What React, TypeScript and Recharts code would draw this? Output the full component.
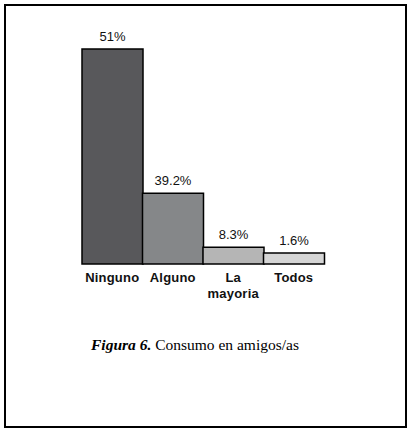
import { BarChart, Bar, XAxis, YAxis, Cell, LabelList } from 'recharts';

// categorías y porcentajes que aparecen en la figura
const categorias = ['Ninguno', 'Alguno', 'La mayoria', 'Todos'];
const porcentajes = ['51%', '39.2%', '8.3%', '1.6%'];
// altura de cada barra tal como está dibujada (misma escala que 51 = barra más alta)
const alturas = [51, 16.8, 4.0, 2.6];

const COLORS = ['#58585b', '#858789', '#b5b5b5', '#d5d5d5'];

const data = categorias.map((c, i) => ({ categoria: c, altura: alturas[i], etiqueta: porcentajes[i] }));

const sansFont = "'Liberation Sans', Arial, sans-serif";

const CategoryTick = (props: any) => {
    const { x, y, payload } = props;
    // "La mayoria" va en dos líneas
    const lines = payload.value === 'La mayoria' ? ['La', 'mayoria'] : [payload.value];
    return (
        <text x={x} y={y} textAnchor="middle" fill="#111" fontFamily={sansFont} fontWeight={700} fontSize={13} letterSpacing={0.2}>
            {lines.map((l: string, i: number) => (
                <tspan key={l} x={x} dy={i === 0 ? 10 : 16}>{l}</tspan>
            ))}
        </text>
    );
};

export default function App() {
    return (
        <div style={{ position: 'absolute', left: 0, top: 0, width: 411, height: 433, background: '#fff' }}>
            <div style={{
                position: 'absolute', left: 4, top: 4, width: 403, height: 424,
                border: '2px solid #000', boxSizing: 'border-box',
            }} />
            <div style={{ position: 'absolute', left: 0, top: 0 }}>
                <BarChart
                    width={411}
                    height={330}
                    data={data}
                    margin={{ top: 49, right: 87, bottom: 26, left: 82 }}
                    barCategoryGap={0}
                >
                    <XAxis
                        dataKey="categoria"
                        axisLine={false}
                        tickLine={false}
                        height={40}
                        interval={0}
                        tick={<CategoryTick />}
                    />
                    <YAxis hide domain={[0, 51]} />
                    <Bar dataKey="altura" stroke="#000" strokeWidth={1.5} isAnimationActive={false}>
                        {data.map((d, i) => (
                            <Cell key={d.categoria} fill={COLORS[i]} />
                        ))}
                        <LabelList
                            dataKey="etiqueta"
                            position="top"
                            offset={8}
                            fill="#111"
                            fontFamily={sansFont}
                            fontSize={13}
                        />
                    </Bar>
                </BarChart>
            </div>
            <div style={{
                position: 'absolute', left: 91, top: 336, whiteSpace: 'nowrap',
                fontFamily: "'Liberation Serif', 'DejaVu Serif', serif", fontSize: 15.5, color: '#000',
            }}>
                <span style={{ fontStyle: 'italic', fontWeight: 700 }}>Figura 6.</span> Consumo en amigos/as
            </div>
        </div>
    );
}
